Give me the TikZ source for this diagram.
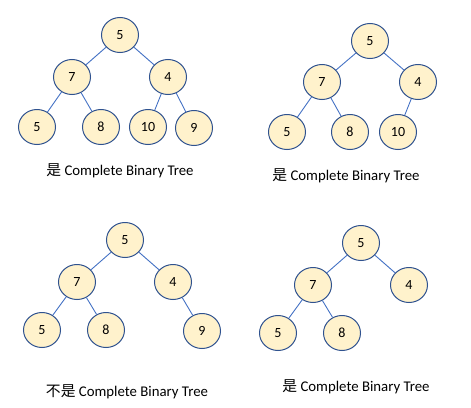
\documentclass[tikz,border=0pt]{standalone}
\usepackage{fontspec}
\setmainfont{Carlito}
\newfontfamily\cjk{Noto Sans CJK SC}
\usetikzlibrary{shapes.geometric,positioning}
\definecolor{nodeFill}{HTML}{FFF2CC}
\definecolor{nodeLine}{HTML}{2F528F}
\definecolor{edgeBlue}{HTML}{4472C4}

\begin{document}
\begin{tikzpicture}[x=1pt, y=-1pt,
    treenode/.style={ellipse, draw=nodeLine, fill=nodeFill, line width=1pt,
      minimum width=37pt, minimum height=35pt, inner sep=0pt,
      font=\fontsize{14}{16}\selectfont},
    treeedge/.style={draw=edgeBlue, line width=0.9pt},
    caption/.style={font=\fontsize{14.8}{17}\selectfont, inner sep=0pt}]
  \useasboundingbox (0,0) rectangle (471,407);

  % tree 1 (top left)
  \node[treenode] (a0) at (120,35) {5};
  \node[treenode] (a1) at (72,77) {7};
  \node[treenode] (a2) at (168,77) {4};
  \node[treenode] (a3) at (37,127) {5};
  \node[treenode] (a4) at (101,127) {8};
  \node[treenode] (a5) at (148,127) {10};
  \node[treenode] (a6) at (194,128) {9};
  \foreach \p/\c in {a0/a1, a0/a2, a1/a3, a1/a4, a2/a5, a2/a6}
    \draw[treeedge] (\p) -- (\c);
  \node[caption] (capA) at (120,171) {{\cjk 是} Complete Binary Tree};

  % tree 2 (top right)
  \node[treenode] (b0) at (370,41) {5};
  \node[treenode] (b1) at (322,82) {7};
  \node[treenode] (b2) at (418,82) {4};
  \node[treenode] (b3) at (287,132) {5};
  \node[treenode] (b4) at (350,132) {8};
  \node[treenode] (b5) at (398,132) {10};
  \foreach \p/\c in {b0/b1, b0/b2, b1/b3, b1/b4, b2/b5}
    \draw[treeedge] (\p) -- (\c);
  \node[caption] (capB) at (346,176) {{\cjk 是} Complete Binary Tree};

  % tree 3 (bottom left)
  \node[treenode] (c0) at (125,240) {5};
  \node[treenode] (c1) at (77,282) {7};
  \node[treenode] (c2) at (173,282) {4};
  \node[treenode] (c3) at (42,330) {5};
  \node[treenode] (c4) at (106,330) {8};
  \node[treenode] (c5) at (202,331) {9};
  \foreach \p/\c in {c0/c1, c0/c2, c1/c3, c1/c4, c2/c5}
    \draw[treeedge] (\p) -- (\c);
  \node[caption] (capC) at (127,392) {{\cjk 不是} Complete Binary Tree};

  % tree 4 (bottom right)
  \node[treenode] (d0) at (361,243) {5};
  \node[treenode] (d1) at (313,285) {7};
  \node[treenode] (d2) at (409,285) {4};
  \node[treenode] (d3) at (278,333) {5};
  \node[treenode] (d4) at (342,333) {8};
  \foreach \p/\c in {d0/d1, d0/d2, d1/d3, d1/d4}
    \draw[treeedge] (\p) -- (\c);
  \node[caption] (capD) at (356,387) {{\cjk 是} Complete Binary Tree};
\end{tikzpicture}
\end{document}
